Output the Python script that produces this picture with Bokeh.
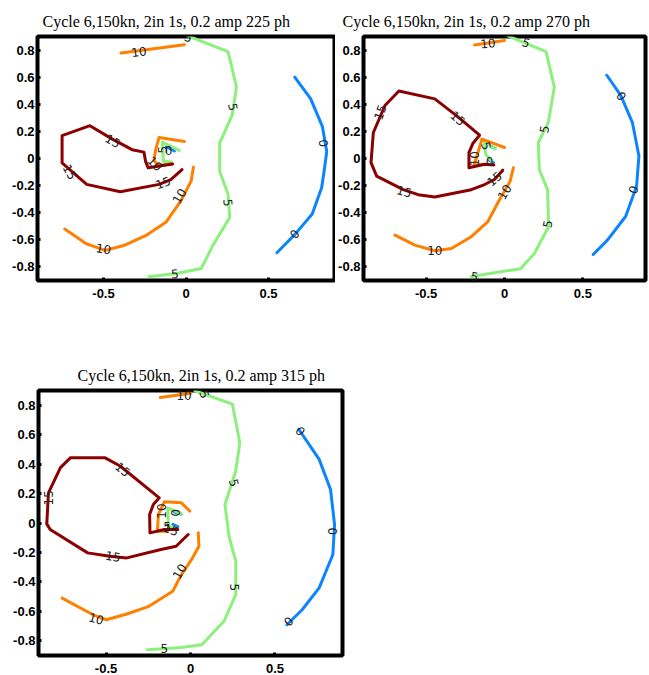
from bokeh.plotting import figure
from bokeh.layouts import column, row
from bokeh.models import FixedTicker, CustomJSTickFormatter, Range1d
from bokeh.core.properties import value
from bokeh.embed import file_html
from bokeh.resources import INLINE

# ---------------- data ----------------
LEVELS = [0, 5, 10, 15]
LEVEL_COLORS = ["#0a85ff", "#8cf07c", "#ff8000", "#8b0000"]
X_TICKS = [-0.5, 0, 0.5]
Y_TICKS = [-0.8, -0.6, -0.4, -0.2, 0, 0.2, 0.4, 0.6, 0.8]
TITLES = ["Cycle 6,150kn, 2in 1s, 0.2 amp 225 ph",
          "Cycle 6,150kn, 2in 1s, 0.2 amp 270 ph",
          "Cycle 6,150kn, 2in 1s, 0.2 amp 315 ph"]

# ---- 225 ph ----
ph225_l0_x = [[0.659, 0.755, 0.827, 0.853, 0.837, 0.822, 0.765, 0.663, 0.551], [-0.12, -0.09, -0.07]]
ph225_l0_y = [[0.600, 0.442, 0.235, 0.052, -0.094, -0.216, -0.410, -0.556, -0.695], [0.085, 0.07, 0.055]]
ph225_l5_x = [[0.010, 0.255, 0.306, 0.280, 0.204, 0.204, 0.255, 0.265, 0.163, 0.092, -0.041, -0.224],
              [-0.041, -0.143, -0.137, -0.092]]
ph225_l5_y = [[0.905, 0.788, 0.527, 0.320, 0.113, -0.094, -0.264, -0.435, -0.641, -0.812, -0.844, -0.873],
              [0.060, 0.121, -0.021, -0.026]]
ph225_l10_x = [[-0.394, -0.010],
               [0.045, 0.031, -0.031, -0.122, -0.245, -0.378, -0.490, -0.602, -0.735],
               [-0.010, -0.163, -0.184, -0.194, -0.167, -0.082]]
ph225_l10_y = [[0.778, 0.839],
               [-0.065, -0.167, -0.313, -0.471, -0.569, -0.642, -0.678, -0.630, -0.520],
               [0.125, 0.155, 0.065, -0.016, -0.050, -0.040]]
ph225_l15_x = [[-0.024, -0.092, -0.163, -0.398, -0.602, -0.751, -0.751, -0.582, -0.449, -0.327, -0.255, -0.245, -0.229, -0.082]]
ph225_l15_y = [[-0.082, -0.155, -0.191, -0.245, -0.191, -0.033, 0.169, 0.242, 0.145, 0.065, 0.047, -0.021, -0.069, -0.040]]
ph225_lab_x = [0.833, 0.657, 0.014, 0.286, 0.255, -0.067, -0.286, -0.041, -0.500, -0.188, -0.443, -0.704, -0.139, -0.143, -0.106]
ph225_lab_y = [0.113, -0.557, 0.893, 0.381, -0.325, -0.849, 0.788, -0.276, -0.666, -0.038, 0.130, -0.099, -0.179, 0.065, 0.057]
ph225_lab_t = ["0", "0", "5", "5", "5", "5", "10", "10", "10", "10", "15", "15", "15", "5", "0"]
ph225_lab_a = [-85, 50, -20, -80, -85, 5, 8, 60, -10, -45, -30, -60, 20, 90, 0]

# ---- 270 ph ----
ph270_l0_x = [[0.653, 0.742, 0.816, 0.858, 0.843, 0.773, 0.657, 0.566], [-0.09, -0.06], [-0.10, -0.07]]
ph270_l0_y = [[0.614, 0.465, 0.267, 0.019, -0.205, -0.428, -0.602, -0.708], [0.09, 0.075], [-0.01, -0.03]]
ph270_l5_x = [[0.021, 0.265, 0.318, 0.280, 0.216, 0.222, 0.275, 0.282, 0.191, 0.102, -0.212],
              [-0.06, -0.13, -0.12, -0.08]]
ph270_l5_y = [[0.905, 0.788, 0.527, 0.267, 0.118, -0.081, -0.230, -0.502, -0.701, -0.813, -0.870],
              [0.07, 0.13, 0.03, -0.02]]
ph270_l10_x = [[-0.191, 0.0],
               [0.057, 0.036, -0.032, -0.106, -0.212, -0.339, -0.445, -0.572, -0.699],
               [0.0, -0.144, -0.176, -0.195, -0.13]]
ph270_l10_y = [[0.838, 0.870],
               [-0.068, -0.167, -0.304, -0.465, -0.577, -0.664, -0.681, -0.639, -0.565],
               [0.081, 0.143, 0.019, -0.048, -0.045]]
ph270_l15_x = [[-0.011, -0.064, -0.127, -0.212, -0.445, -0.551, -0.646, -0.816, -0.852, -0.837, -0.763, -0.674,
                -0.445, -0.307, -0.159, -0.201, -0.227, -0.227, -0.127, -0.068]]
ph270_l15_y = [[-0.086, -0.155, -0.192, -0.230, -0.284, -0.267, -0.230, -0.130, -0.031, 0.192, 0.391, 0.498,
                0.440, 0.316, 0.172, 0.113, 0.043, -0.068, -0.043, -0.048]]
ph270_lab_x = [0.746, 0.822, 0.138, 0.254, 0.275, -0.191, -0.106, 0.0, -0.445, -0.191, -0.794, -0.297, -0.640, -0.064, -0.117, -0.095]
ph270_lab_y = [0.460, -0.230, 0.855, 0.217, -0.483, -0.870, 0.850, -0.247, -0.681, -0.001, 0.341, 0.297, -0.242, -0.150, 0.093, -0.024]
ph270_lab_t = ["0", "0", "5", "5", "5", "5", "10", "10", "10", "10", "15", "15", "15", "15", "5", "0"]
ph270_lab_a = [-55, 70, -20, 80, 80, -10, 5, 60, 0, 90, 70, -40, -15, 40, -70, 0]

# ---- 315 ph ----
ph315_l0_x = [[0.641, 0.762, 0.829, 0.853, 0.843, 0.762, 0.661, 0.571], [-0.095, -0.055], [-0.105, -0.075]]
ph315_l0_y = [[0.637, 0.432, 0.228, -0.010, -0.214, -0.441, -0.589, -0.691], [0.075, 0.06], [-0.01, -0.025]]
ph315_l5_x = [[0.026, 0.248, 0.292, 0.268, 0.204, 0.228, 0.268, 0.268, 0.198, 0.067, -0.054, -0.256],
              [-0.054, -0.135, -0.131, -0.085]]
ph315_l5_y = [[0.898, 0.807, 0.546, 0.353, 0.126, -0.090, -0.260, -0.487, -0.668, -0.827, -0.845, -0.861],
              [0.062, 0.103, -0.022, -0.033]]
ph315_l10_x = [[-0.179, 0.002],
               [0.046, 0.050, 0.006, -0.054, -0.105, -0.246, -0.377, -0.498, -0.569, -0.760],
               [-0.004, -0.054, -0.155, -0.190, -0.196, -0.135]]
ph315_l10_y = [[0.852, 0.882],
               [-0.067, -0.158, -0.249, -0.351, -0.464, -0.566, -0.618, -0.657, -0.628, -0.510],
               [0.081, 0.137, 0.144, 0.058, -0.056, -0.056]]
ph315_l15_x = [[-0.014, -0.085, -0.175, -0.377, -0.478, -0.609, -0.831, -0.851, -0.841, -0.770, -0.710, -0.508,
                -0.417, -0.185, -0.220, -0.242, -0.240, -0.155, -0.075]]
ph315_l15_y = [[-0.078, -0.158, -0.180, -0.237, -0.226, -0.203, -0.044, -0.006, 0.205, 0.376, 0.444, 0.444,
                0.387, 0.171, 0.126, 0.058, -0.067, -0.044, -0.044]]
ph315_lab_x = [0.651, 0.843, 0.581, 0.083, 0.258, 0.262, -0.155, -0.038, -0.065, -0.558, -0.169, -0.841, -0.401, -0.458, -0.115, -0.091, -0.139]
ph315_lab_y = [0.625, -0.056, -0.668, 0.875, 0.273, -0.437, -0.855, 0.868, -0.328, -0.650, 0.081, 0.171, 0.364, -0.226, -0.044, 0.069, -0.022]
ph315_lab_t = ["0", "0", "0", "5", "5", "5", "5", "10", "10", "10", "10", "15", "15", "15", "15", "0", "5"]
ph315_lab_a = [-50, -90, 45, -70, -75, -90, 0, 0, 60, -15, 90, 90, -40, -10, -20, -90, 0]

PANELS = [
    ([ph225_l0_x, ph225_l5_x, ph225_l10_x, ph225_l15_x], [ph225_l0_y, ph225_l5_y, ph225_l10_y, ph225_l15_y],
     ph225_lab_x, ph225_lab_y, ph225_lab_t, ph225_lab_a),
    ([ph270_l0_x, ph270_l5_x, ph270_l10_x, ph270_l15_x], [ph270_l0_y, ph270_l5_y, ph270_l10_y, ph270_l15_y],
     ph270_lab_x, ph270_lab_y, ph270_lab_t, ph270_lab_a),
    ([ph315_l0_x, ph315_l5_x, ph315_l10_x, ph315_l15_x], [ph315_l0_y, ph315_l5_y, ph315_l10_y, ph315_l15_y],
     ph315_lab_x, ph315_lab_y, ph315_lab_t, ph315_lab_a),
]

fmt_code = "return Math.abs(tick) < 1e-9 ? '0' : tick.toFixed(1);"


def make_panel(i, width, height, bl, br, bt, bb, title_offset):
    xs_levels, ys_levels, lx, ly, lt, la = PANELS[i]
    p = figure(width=width, height=height, output_backend="svg", toolbar_location=None,
               x_range=Range1d(-0.9, 0.9), y_range=Range1d(-0.9, 0.9),
               min_border_left=bl, min_border_right=br, min_border_top=bt, min_border_bottom=bb,
               title=TITLES[i])
    p.title.text_font = "Liberation Serif"
    p.title.text_font_size = "16px"
    p.title.text_font_style = "normal"
    p.title.text_color = "black"
    p.title.align = "left"
    p.title.offset = title_offset
    p.title.standoff = 14
    p.grid.visible = False
    p.outline_line_color = "black"
    p.outline_line_width = 4
    p.background_fill_color = "white"
    p.border_fill_color = "white"
    for ax in (p.xaxis[0], p.yaxis[0]):
        ax.formatter = CustomJSTickFormatter(code=fmt_code)
        ax.major_label_text_font = "Liberation Sans"
        ax.major_label_text_font_style = "bold"
        ax.major_label_text_font_size = "13px"
        ax.major_label_text_color = "black"
        ax.axis_line_color = None
        ax.major_tick_in = 3
        ax.major_tick_out = 0
        ax.major_tick_line_width = 3
        ax.major_tick_line_color = "black"
        ax.minor_tick_line_color = None
    p.xaxis.ticker = FixedTicker(ticks=X_TICKS)
    p.yaxis.ticker = FixedTicker(ticks=Y_TICKS)
    p.xaxis.major_label_standoff = 8
    p.yaxis.major_label_standoff = 3
    for k in range(len(LEVELS)):
        p.multi_line(xs=xs_levels[k], ys=ys_levels[k], line_color=LEVEL_COLORS[k], line_width=3,
                     line_join="round", line_cap="round")
    p.text(x=lx, y=ly, text=lt, angle=la, angle_units="deg", text_align="center",
           text_baseline="middle", text_font=value("DejaVu Sans"), text_font_size="12px",
           text_color="#222222")
    return p


p1 = make_panel(0, 335, 340, 37, 1, 35, 60, 5)
p2 = make_panel(1, 314, 340, 25, 4, 36, 58, -21)
p3 = make_panel(2, 347, 335, 38, 5, 50, 20, 39)

layout = column(row(p1, p2, spacing=0), p3, spacing=0)
open("out.html", "w").write(file_html(layout, INLINE))
